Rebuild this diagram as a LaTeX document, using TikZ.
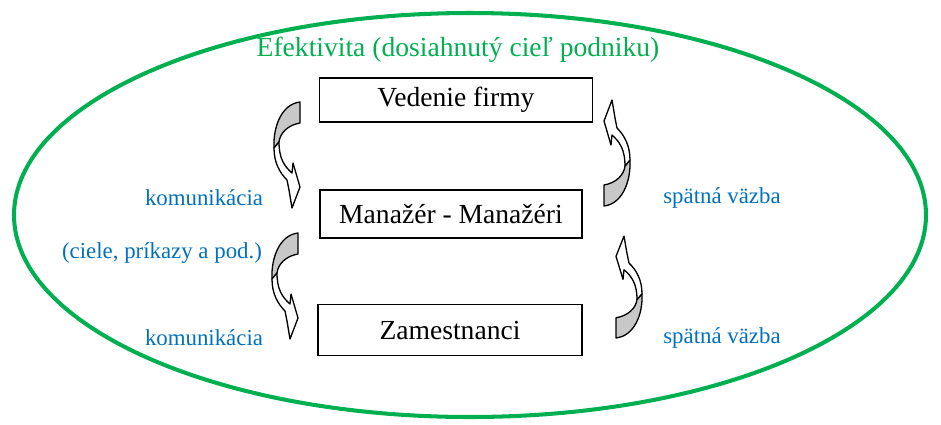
\documentclass[tikz,border=0pt]{standalone}
\usepackage{fontspec}
\setmainfont{Liberation Serif}
\definecolor{egreen}{RGB}{0,176,80}
\definecolor{eblue}{RGB}{0,112,192}
\definecolor{agray}{RGB}{200,200,200}
\tikzset{
  box/.style={draw,line width=0.8pt,inner sep=0pt,font=\fontsize{15.7}{18}\selectfont},
  lbl/.style={text=eblue,inner sep=0pt,font=\fontsize{13}{15}\selectfont},
  curvarrow/.pic={
    \draw[line width=0.75pt,line join=round,fill=agray] (16,-52) .. controls (-2,-50) and (-11,-28) .. (-10,-6)
      -- (-5,-12) .. controls (-4,-21) and (4,-29) .. (16,-31) -- cycle;
    \draw[line width=0.75pt,line join=round,fill=white] (-10,-6) .. controls (-10,9) and (-4,19) .. (3,26)
      -- (5,36) -- (8,54) -- (16,33) -- (9,9) -- (8,19) .. controls (0,12) and (-5,4) .. (-5,-12) -- cycle;
  }
}
\begin{document}
\begin{tikzpicture}[x=0.02cm,y=-0.02cm]
\useasboundingbox (0,0) rectangle (941,424);
\draw[egreen,line width=2.3pt] (470,215) ellipse (456 and 202);
\node[text=egreen,inner sep=0pt,font=\fontsize{15.7}{18}\selectfont] (titel) at (458,50) {Efektivita (dosiahnutý cieľ podniku)};
\node[box,minimum width=5.46cm,minimum height=0.88cm] (vedenie) at (456,100) {Vedenie firmy};
\node[box,minimum width=5.24cm,minimum height=0.96cm] (manazer) at (451,214) {Manažér - Manažéri};
\node[box,minimum width=5.28cm,minimum height=1.02cm] (zamest) at (450,330) {Zamestnanci};
\node[lbl] (kom1) at (204,198) {komunikácia};
\node[lbl] (ciele) at (162,253) {(ciele, príkazy a pod.)};
\node[lbl] (kom2) at (204,338) {komunikácia};
\node[lbl] (vazba1) at (722,198) {spätná väzba};
\node[lbl] (vazba2) at (722,338) {spätná väzba};
\pic at (284,154) {curvarrow};
\pic at (282,285) {curvarrow};
\pic[rotate=180] at (620,154) {curvarrow};
\pic[rotate=180,yscale=0.96] at (632,288) {curvarrow};
\end{tikzpicture}
\end{document}
